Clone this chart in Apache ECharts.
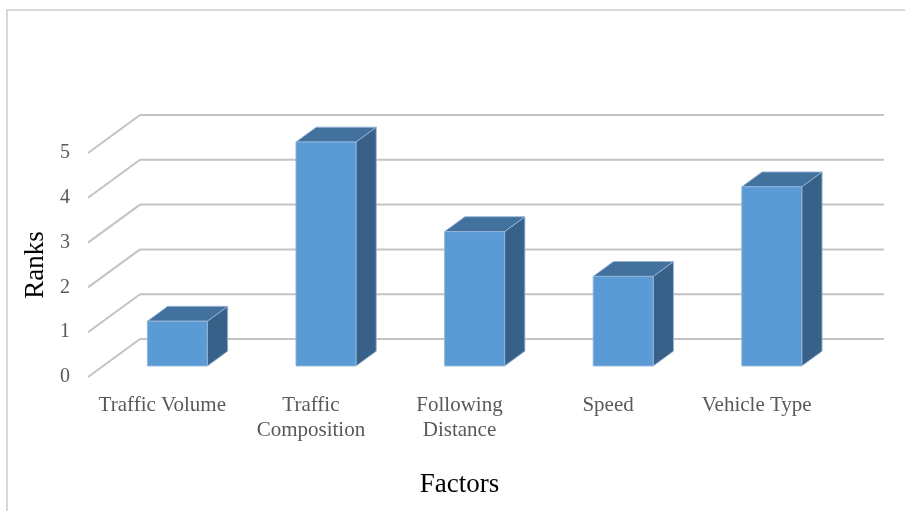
<!DOCTYPE html>
<html>
<head>
<meta charset="utf-8">
<script src="https://cdn.jsdelivr.net/npm/echarts@6/dist/echarts.min.js"></script>
<style>
html,body{margin:0;padding:0;background:#fff;}
#c{width:905px;height:511px;}
</style>
</head>
<body>
<div id="c"></div>
<script>
const categories = ['Traffic Volume', 'Traffic\nComposition', 'Following\nDistance', 'Speed', 'Vehicle Type'];
const ranks = [1, 5, 3, 2, 4];
const yTicks = [0, 1, 2, 3, 4, 5];

const DX = 52, DY = 38;       // depth offset of the back wall
const F_FRONT = 0.29;         // bar front-face depth fraction
const F_DEPTH = 0.39;         // bar depth fraction
const BAR_W = 60;

const chart = echarts.init(document.getElementById('c'));

const option = {
  animation: false,
  backgroundColor: '#ffffff',
  graphic: [{
    type: 'rect', z: -10,
    shape: { x: 7, y: 10, width: 1000, height: 600 },
    style: { fill: 'none', stroke: '#d9d9d9', lineWidth: 2 }
  }],
  grid: { left: 88, right: 74, top: 153, bottom: 134 },
  xAxis: {
    type: 'category',
    data: categories,
    axisLine: { show: false },
    axisTick: { show: false },
    axisLabel: {
      fontFamily: 'Liberation Serif', fontSize: 21, color: '#595959',
      lineHeight: 25, margin: 16, interval: 0
    },
    name: 'Factors',
    nameLocation: 'middle',
    nameGap: 94,
    nameTextStyle: { fontFamily: 'Liberation Serif', fontSize: 27, color: '#000' }
  },
  yAxis: {
    type: 'value',
    min: 0, max: 5, interval: 1,
    axisLine: { show: false },
    axisTick: { show: false },
    splitLine: { show: false },
    axisLabel: { fontFamily: 'Liberation Serif', fontSize: 20, color: '#595959', margin: 18, padding: [3, 0, 0, 0] },
    name: 'Ranks',
    nameLocation: 'middle',
    nameRotate: 90,
    nameGap: 38,
    nameTextStyle: { fontFamily: 'Liberation Serif', fontSize: 27, color: '#000' }
  },
  series: [
    {
      type: 'custom',
      name: 'wall',
      z: 1,
      silent: true,
      data: yTicks.map(t => [0, t]),
      encode: { x: 0, y: 1 },
      renderItem: function (params, api) {
        const cs = params.coordSys;
        const p = api.coord([0, api.value(1)]);
        const y = p[1];
        const x0 = cs.x, x1 = cs.x + cs.width;
        const st = { stroke: '#c3c3c3', lineWidth: 2 };
        return {
          type: 'group',
          children: [
            { type: 'line', shape: { x1: x0, y1: y, x2: x0 + DX, y2: y - DY }, style: st },
            { type: 'line', shape: { x1: x0 + DX, y1: y - DY, x2: x1 + DX + 1, y2: y - DY }, style: st }
          ]
        };
      }
    },
    {
      type: 'custom',
      name: 'Ranks',
      z: 5,
      data: ranks.map((v, i) => [i, v]),
      encode: { x: 0, y: 1 },
      renderItem: function (params, api) {
        const i = api.value(0), v = api.value(1);
        const base = api.coord([i, 0]);
        const top = api.coord([i, v]);
        const fx = base[0] + DX * F_FRONT;
        const yb = base[1] - DY * F_FRONT;
        const yt = top[1] - DY * F_FRONT;
        const ddx = DX * F_DEPTH, ddy = DY * F_DEPTH;
        const l = fx - BAR_W / 2, r = fx + BAR_W / 2;
        const edge = 'rgba(150,180,215,0.9)';
        return {
          type: 'group',
          children: [
            { type: 'polygon', shape: { points: [[r, yt], [r + ddx, yt - ddy], [r + ddx, yb - ddy], [r, yb]] },
              style: { fill: '#386189', stroke: edge, lineWidth: 1 } },
            { type: 'polygon', shape: { points: [[l, yt], [r, yt], [r + ddx, yt - ddy], [l + ddx, yt - ddy]] },
              style: { fill: '#41719c', stroke: edge, lineWidth: 1 } },
            { type: 'rect', shape: { x: l, y: yt, width: BAR_W, height: yb - yt },
              style: { fill: '#5b9bd5', stroke: edge, lineWidth: 1 } }
          ]
        };
      }
    }
  ]
};
chart.setOption(option);
</script>
</body>
</html>
